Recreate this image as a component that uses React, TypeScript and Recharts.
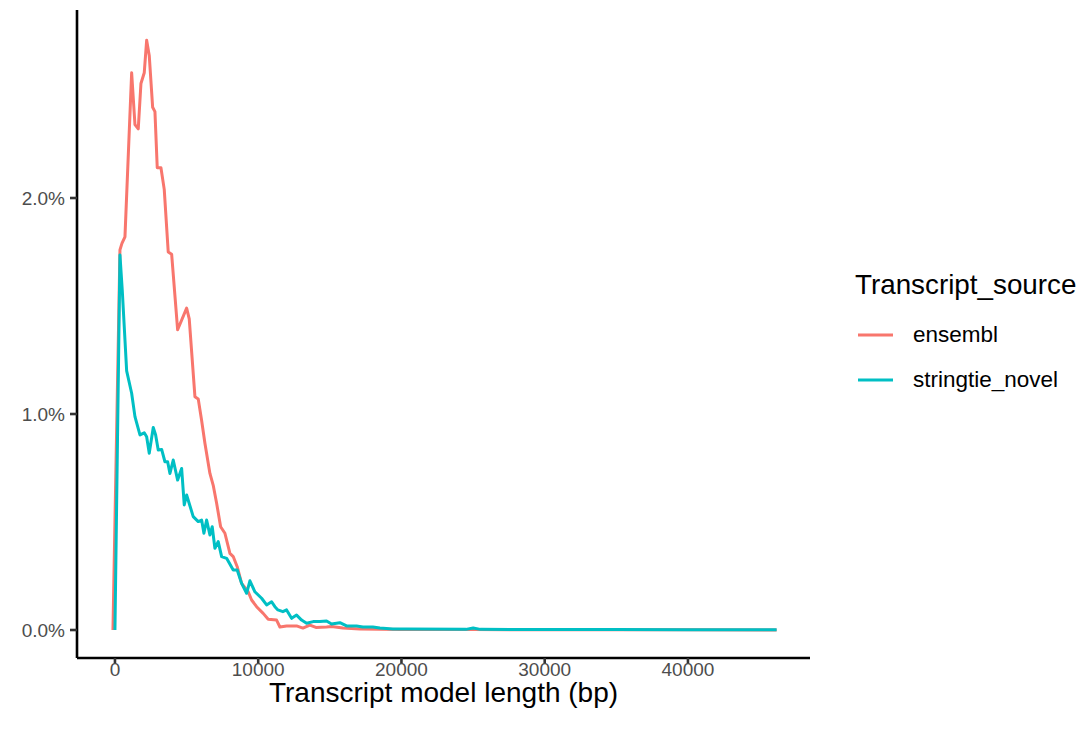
import React from 'react';
import { LineChart, Line, XAxis, YAxis, Label } from 'recharts';

// Transcript model length (bp), share of transcripts (%)
const ensemblX = [
  -140, 349, 488, 698, 1165, 1396, 1626, 1814, 2045, 2212, 2393, 2631, 2791, 2952, 3210, 3440, 3719, 3957,
  4375, 5003, 5185, 5582, 5813, 6050, 6280, 6629, 6859, 7097, 7376, 7676, 8025, 8255, 8534, 8841, 9302,
  9539, 9888, 10348, 10697, 11283, 11514, 11981, 12679, 13119, 13607, 14026, 14772, 15121, 15910, 17096,
  18492, 20000, 22500, 25000, 30000, 35000, 40000, 46190,
];
const ensemblY = [
  0, 1.76, 1.79, 1.82, 2.58, 2.34, 2.32, 2.53, 2.58, 2.73, 2.66, 2.42, 2.4, 2.14, 2.14, 2.04, 1.75, 1.74,
  1.39, 1.49, 1.44, 1.08, 1.07, 0.97, 0.865, 0.725, 0.67, 0.587, 0.478, 0.448, 0.355, 0.34, 0.293, 0.216, 0.177,
  0.139, 0.108, 0.077, 0.05, 0.046, 0.014, 0.019, 0.019, 0.009, 0.023, 0.012, 0.014, 0.016, 0.009, 0.005,
  0.004, 0.002, 0.002, 0.002, 0.001, 0.001, 0.001, 0,
];

const novelX = [
  0, 349, 509, 816, 1165, 1396, 1745, 2045, 2212, 2393, 2673, 2840, 3021, 3259, 3489, 3677, 3838, 4068,
  4375, 4654, 4836, 5003, 5464, 5813, 6050, 6210, 6399, 6629, 6790, 6978, 7208, 7446, 7795, 8255, 8534,
  8841, 9190, 9420, 9769, 10237, 10586, 10935, 11165, 11374, 11723, 11981, 12330, 12679, 13028, 13377,
  13837, 14305, 14772, 15121, 15701, 16168, 16866, 17305, 18003, 18492, 19399, 20355, 24500, 25010, 25500,
  30000, 35000, 40000, 46190,
];
const novelY = [
  0, 1.736, 1.574, 1.2, 1.096, 0.988, 0.903, 0.913, 0.895, 0.818, 0.938, 0.903, 0.833, 0.836, 0.779, 0.779, 0.725, 0.787,
  0.694, 0.748, 0.579, 0.625, 0.525, 0.502, 0.509, 0.448, 0.509, 0.44, 0.478, 0.378, 0.409, 0.34, 0.332, 0.278, 0.278,
  0.216, 0.17, 0.228, 0.177, 0.147, 0.116, 0.131, 0.108, 0.093, 0.085, 0.093, 0.054, 0.069, 0.046, 0.031,
  0.039, 0.039, 0.042, 0.028, 0.034, 0.019, 0.019, 0.014, 0.014, 0.009, 0.005, 0.005, 0.003, 0.009, 0.003,
  0.002, 0.002, 0.001, 0.001,
];

const xTicks = [0, 10000, 20000, 30000, 40000];
const yTicks = [0, 1, 2];

const series = [
  { name: 'ensembl', color: '#F8766D', xs: ensemblX, ys: ensemblY },
  { name: 'stringtie_novel', color: '#00BFC4', xs: novelX, ys: novelY },
];

const font = '"Liberation Sans", Arial, sans-serif';

export default function App() {
  return (
    <div style={{ position: 'absolute', left: 0, top: 0, width: 1082, height: 730, background: '#fff', fontFamily: font }}>
      <LineChart width={1082} height={730} margin={{ top: 10, right: 272, bottom: 0, left: 0 }}>
        <XAxis
          type="number"
          dataKey="x"
          domain={[-2650, 48520]}
          allowDataOverflow
          ticks={xTicks}
          tickSize={6}
          tickMargin={-1}
          height={72}
          stroke="#000"
          strokeWidth={2.6}
          tick={{ fill: '#4d4d4d', fontSize: 19, fontFamily: font }}
          tickLine={{ stroke: '#333', strokeWidth: 2.6 }}
        >
          <Label
            value="Transcript model length (bp)"
            position="insideBottom"
            offset={28}
            style={{ fill: '#000', fontSize: 28, fontFamily: font }}
          />
        </XAxis>
        <YAxis
          type="number"
          domain={[-0.1296, 2.8704]}
          allowDataOverflow
          ticks={yTicks}
          width={77}
          tickSize={7}
          tickMargin={5}
          stroke="#000"
          strokeWidth={2.6}
          tickFormatter={(v: number) => `${v.toFixed(1)}%`}
          tick={{ fill: '#4d4d4d', fontSize: 19, fontFamily: font }}
          tickLine={{ stroke: '#333', strokeWidth: 2.6 }}
        />
        {series.map((s) => (
          <Line
            key={s.name}
            data={s.xs.map((x, i) => ({ x, y: s.ys[i] }))}
            dataKey="y"
            name={s.name}
            type="linear"
            stroke={s.color}
            strokeWidth={3}
            strokeLinejoin="round"
            dot={false}
            activeDot={false}
            isAnimationActive={false}
          />
        ))}
      </LineChart>
      <div style={{ position: 'absolute', left: 855, top: 265, height: 40, lineHeight: '40px', fontSize: 27.8, color: '#000' }}>
        Transcript_source
      </div>
      {series.map((s, i) => (
        <div key={s.name} style={{ position: 'absolute', left: 854, top: 313 + i * 45, height: 44, display: 'flex', alignItems: 'center' }}>
          <svg width={43} height={44}>
            <line x1={4} y1={22} x2={39} y2={22} stroke={s.color} strokeWidth={3} />
          </svg>
          <span style={{ marginLeft: 16, fontSize: 22.5, color: '#000', lineHeight: '44px' }}>{s.name}</span>
        </div>
      ))}
    </div>
  );
}
